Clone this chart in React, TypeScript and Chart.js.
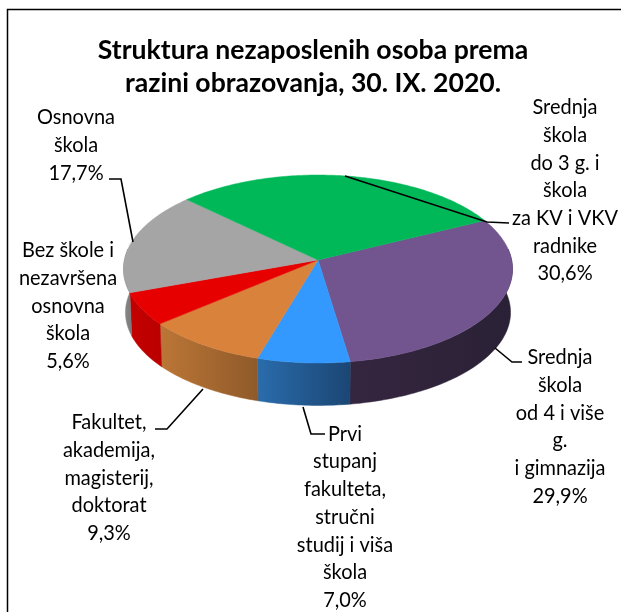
import React, { useEffect, useRef } from "react";
import { Chart, registerables } from "chart.js";

Chart.register(...registerables);

const titleLines = ["Struktura nezaposlenih osoba prema", "razini obrazovanja, 30. IX. 2020."];
const categories = [
  ["Srednja", "škola", "od 4 i više", "g.", "i gimnazija"],
  ["Prvi", "stupanj", "fakulteta,", "stručni", "studij i viša", "škola"],
  ["Fakultet,", "akademija,", "magisterij,", "doktorat"],
  ["Bez škole i", "nezavršena", "osnovna", "škola"],
  ["Osnovna", "škola"],
  ["Srednja", "škola", "do 3 g. i", "škola", "za KV i VKV", "radnike"],
];
const values = [29.9, 7.0, 9.3, 5.6, 17.7, 30.6];
const topColors = ["#72558F", "#3399FF", "#D8823C", "#E60000", "#A5A5A5", "#00B858"];
const sideStart = ["#35263F", "#2A6CAC", "#BC7636", "#C40000", "#8A8A8A", "#00954A"];
const sideEnd = ["#2A2136", "#1B4674", "#8F5A2A", "#BA0000", "#7A7A7A", "#00803F"];

// layout of the picture (not data)
const APEX = { x: 318, y: 260 };
const AX = 193.6, BY = 93.1, K = 0.0957, DEPTH = 43.5, BOTTOM_SCALE = 0.99;
const FONT = "Lato, sans-serif";
const TEXT_SQUEEZE = 0.95;
const labelAnchors = [
  { x: 560, y: 357.5 }, { x: 345, y: 434 }, { x: 109, y: 422.5 },
  { x: 68, y: 250.5 }, { x: 76, y: 117.5 }, { x: 565, y: 107.5 },
];
const LINE_H = 27.7;
const leaders = [
  [[495, 348], [512, 362], [522, 362]],
  [[303, 407], [311, 434], [325, 434]],
  [[155, 429], [167, 429], [203, 389]],
  [[109, 179], [121, 179], [133, 242]],
  [[345, 176], [487, 222], [509, 223]],
];

function rim(theta: number, scale = 1, dy = 0) {
  const u = Math.cos(theta), v = Math.sin(theta);
  const d = 1 - K * v;
  return { x: APEX.x + (scale * AX * u) / d, y: APEX.y + dy + (scale * BY * v) / d };
}

const pie3d = {
  id: "pie3d",
  beforeDraw(chart: any) {
    const { ctx } = chart;
    ctx.save();
    ctx.fillStyle = "#fff";
    ctx.fillRect(0, 0, chart.width, chart.height);
    ctx.strokeStyle = "#000";
    ctx.lineWidth = 1.5;
    ctx.strokeRect(7.5, 9.5, 800, 800);
    ctx.restore();
  },
  beforeDatasetsDraw(chart: any) {
    const { ctx } = chart;
    const arcs = chart.getDatasetMeta(0).data;
    ctx.save();
    // side wall
    arcs.forEach((el: any, i: number) => {
      const visA = -0.12, visB = Math.PI + 0.12;
      const norm = (a: number) => {
        let r = a;
        while (r < -Math.PI / 2) r += Math.PI * 2;
        return r;
      };
      const s0 = norm(el.startAngle);
      const e0 = s0 + (el.endAngle - el.startAngle);
      const s = Math.max(s0, visA), e = Math.min(e0, visB);
      if (e <= s) return;
      const steps = Math.max(4, Math.ceil((e - s) * 60));
      const pts = [];
      for (let n = 0; n <= steps; n++) pts.push(rim(s + ((e - s) * n) / steps));
      const low = [];
      for (let n = steps; n >= 0; n--) low.push(rim(s + ((e - s) * n) / steps, BOTTOM_SCALE, DEPTH));
      const xs = pts.concat(low).map((p) => p.x);
      const x0 = Math.min(...xs), x1 = Math.max(...xs);
      const g = ctx.createLinearGradient(x0, 0, x1, 0);
      g.addColorStop(0, sideStart[i]);
      g.addColorStop(1, sideEnd[i]);
      ctx.beginPath();
      pts.concat(low).forEach((p, n) => (n ? ctx.lineTo(p.x, p.y) : ctx.moveTo(p.x, p.y)));
      ctx.closePath();
      ctx.fillStyle = g;
      ctx.strokeStyle = g;
      ctx.lineWidth = 0.5;
      ctx.fill();
      ctx.stroke();
    });
    // top face, from the library's arc angles
    arcs.forEach((el: any) => {
      const s = el.startAngle, e = el.endAngle;
      const steps = Math.ceil((e - s) * 60);
      ctx.beginPath();
      ctx.moveTo(APEX.x, APEX.y);
      for (let n = 0; n <= steps; n++) {
        const p = rim(s + ((e - s) * n) / steps);
        ctx.lineTo(p.x, p.y);
      }
      ctx.closePath();
      ctx.fillStyle = el.options.backgroundColor;
      ctx.strokeStyle = el.options.backgroundColor;
      ctx.lineWidth = 0.5;
      ctx.fill();
      ctx.stroke();
    });
    // leaders
    ctx.strokeStyle = "#000";
    ctx.lineWidth = 1.6;
    leaders.forEach((path) => {
      ctx.beginPath();
      path.forEach(([x, y], n) => (n ? ctx.lineTo(x, y) : ctx.moveTo(x, y)));
      ctx.stroke();
    });
    // labels
    ctx.fillStyle = "#000";
    ctx.font = `21px ${FONT}`;
    ctx.textAlign = "center";
    ctx.textBaseline = "middle";
    categories.forEach((lines, i) => {
      const all = [...lines, values[i].toFixed(1).replace(".", ",") + "%"];
      all.forEach((t, n) => {
        ctx.save();
        ctx.translate(labelAnchors[i].x, labelAnchors[i].y + n * LINE_H);
        ctx.scale(TEXT_SQUEEZE, 1);
        ctx.fillText(t, 0, 0);
        ctx.restore();
      });
    });
    ctx.restore();
    return false;
  },
};

export default function App() {
  const ref = useRef<HTMLCanvasElement>(null);
  useEffect(() => {
    const chart = new Chart(ref.current!, {
      type: "pie",
      data: {
        labels: categories.map((c) => c.join(" ")),
        datasets: [{ data: values, backgroundColor: topColors, borderWidth: 0 }],
      },
      options: {
        responsive: false,
        animation: false,
        rotation: 63.8,
        layout: { padding: { top: 16, left: 5, right: 0 } },
        plugins: {
          legend: { display: false },
          tooltip: { enabled: false },
          title: {
            display: true,
            text: titleLines,
            color: "#000",
            font: { family: FONT, size: 26.6, weight: "bold", lineHeight: 1.25 },
            padding: { top: 18, bottom: 10 },
          },
        },
      },
      plugins: [pie3d],
    } as any);
    return () => chart.destroy();
  }, []);
  return (
    <canvas
      ref={ref}
      width={621}
      height={612}
      style={{ position: "fixed", left: 0, top: 0, width: 621, height: 612 }}
    />
  );
}
